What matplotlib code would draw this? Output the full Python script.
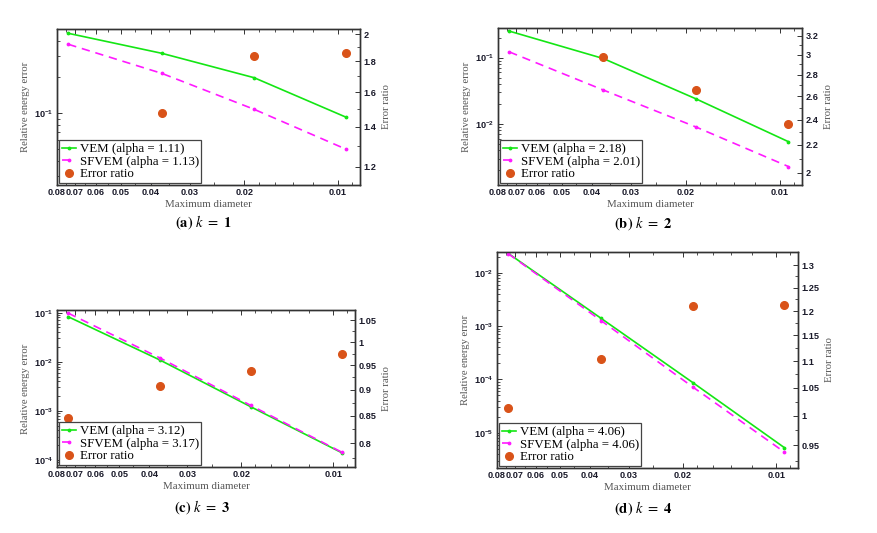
import numpy as np
import matplotlib
matplotlib.use("Agg")
import matplotlib.pyplot as plt
from matplotlib.ticker import FixedLocator, NullFormatter, FuncFormatter, LogFormatterSciNotation

# ---------------- data ----------------
h = [0.0736, 0.0368, 0.0186, 0.0094]          # maximum diameter

vem_a = [0.464, 0.316, 0.198, 0.0926]
sf_a = [0.376, 0.215, 0.108, 0.0501]
ratio_a = [1.23, 1.474, 1.835, 1.858]

vem_b = [0.25, 0.0966, 0.0239, 0.0054]
sf_b = [0.1216, 0.0324, 0.0090, 0.00228]
ratio_b = [2.06, 2.98, 2.654, 2.367]

vem_c = [0.083, 0.0108, 1.21e-3, 1.41e-4]
sf_c = [0.0982, 0.0119, 1.289e-3, 1.447e-4]
ratio_c = [0.845, 0.907, 0.939, 0.9745]

vem_d = [0.0231, 1.39e-3, 8.7e-5, 5.23e-6]
sf_d = [0.0228, 1.26e-3, 7.19e-5, 4.31e-6]
ratio_d = [1.013, 1.104, 1.21, 1.212]

alpha_vem = ["1.11", "2.18", "3.12", "4.06"]
alpha_sf = ["1.13", "2.01", "3.17", "4.06"]
captions = ["(a)", "(b)", "(c)", "(d)"]
kvals = ["1", "2", "3", "4"]

xticks = [0.08, 0.07, 0.06, 0.05, 0.04, 0.03, 0.02, 0.01]
rticks_a = [1.2, 1.4, 1.6, 1.8, 2]
rticks_b = [2, 2.2, 2.4, 2.6, 2.8, 3, 3.2]
rticks_c = [0.8, 0.85, 0.9, 0.95, 1, 1.05]
rticks_d = [0.95, 1, 1.05, 1.1, 1.15, 1.2, 1.25, 1.3]

# ---------------- layout ----------------
W, H = 877, 533
plt.rcParams['mathtext.fontset'] = 'stix'
fig = plt.figure(figsize=(W / 100, H / 100), dpi=100)

def frac(l, t, r, b):
    return [l / W, 1 - b / H, (r - l) / W, (b - t) / H]

panels = [
    dict(rect=frac(57, 29, 360, 185), vem=vem_a, sf=sf_a, ratio=ratio_a, ylim=(0.0253, 0.504),
         rlim=(1.118, 2.04), rticks=rticks_a, rminor=[1.3, 1.5, 1.7, 1.9], cap_xy=(203, 222)),
    dict(rect=frac(498, 28, 802, 185), vem=vem_b, sf=sf_b, ratio=ratio_b, ylim=(1.2e-3, 0.2786),
         rlim=(1.918, 3.286), rticks=rticks_b, rminor=[2.1, 2.3, 2.5, 2.7, 2.9, 3.1], cap_xy=(643, 223)),
    dict(rect=frac(57, 310, 355, 467), vem=vem_c, sf=sf_c, ratio=ratio_c, ylim=(7.2e-5, 0.1135),
         rlim=(0.759, 1.0735), rticks=rticks_c, rminor=[0.775, 0.825, 0.875, 0.925, 0.975, 1.025], cap_xy=(202, 507)),
    dict(rect=frac(497, 252, 798, 468), vem=vem_d, sf=sf_d, ratio=ratio_d, ylim=(2.18e-6, 0.0245),
         rlim=(0.913, 1.33), rticks=rticks_d, rminor=[0.925, 0.975, 1.025, 1.075, 1.125, 1.175, 1.225, 1.275], cap_xy=(643, 508)),
]

green = '#14e614'
magenta = '#ff1aff'
orange = '#d95319'
spine_col = '#333333'
label_col = '#555555'
serif = 'Liberation Serif'
sans = 'Liberation Sans'

fmt_g = FuncFormatter(lambda v, p: '%g' % v)

for i, P in enumerate(panels):
    ax = fig.add_axes(P['rect'])
    ax.set_xscale('log')
    ax.set_yscale('log')
    l1, = ax.plot(h, P['vem'], color=green, lw=1.2, marker='.', ms=3.5, zorder=3)
    l2, = ax.plot(h, P['sf'], color=magenta, lw=1.2, ls=(0, (5, 3.5)), marker='.', ms=3.5, zorder=3)
    ax.set_xlim(0.0800, 0.0085)
    ax.set_ylim(*P['ylim'])

    ax.xaxis.set_major_locator(FixedLocator(xticks))
    ax.xaxis.set_major_formatter(fmt_g)
    ax.xaxis.set_minor_locator(FixedLocator([0.009, 0.012, 0.014, 0.016, 0.018, 0.025, 0.035, 0.045, 0.055, 0.065, 0.075]))
    ax.xaxis.set_minor_formatter(NullFormatter())
    ax.yaxis.set_major_formatter(LogFormatterSciNotation())
    ax.yaxis.set_minor_formatter(NullFormatter())
    ax.tick_params(which='both', direction='in', top=True, right=False, colors=spine_col,
                   labelsize=6.6, labelcolor='#1a1a2a', pad=2.5)
    ax.tick_params(which='major', length=3.5, width=0.7)
    ax.tick_params(which='minor', length=2, width=0.6)
    for lab in ax.get_xticklabels() + ax.get_yticklabels():
        lab.set_fontfamily(sans)
        lab.set_fontweight('bold')
    for s in ax.spines.values():
        s.set_color(spine_col)
        s.set_linewidth(1.0)
    ax.set_xlabel('Maximum diameter', fontfamily=serif, fontsize=7.8, color=label_col, labelpad=2)
    ax.set_ylabel('Relative energy error', fontfamily=serif, fontsize=7.7, color=label_col, labelpad=3)

    ax2 = ax.twinx()
    ax2.set_yscale('log')
    l3, = ax2.plot(h, P['ratio'], ls='none', marker='o', ms=5.5, color=orange, mec=orange, zorder=3)
    ax2.set_ylim(*P['rlim'])
    ax2.yaxis.set_major_locator(FixedLocator(P['rticks']))
    ax2.yaxis.set_major_formatter(fmt_g)
    ax2.yaxis.set_minor_locator(FixedLocator(P['rminor']))
    ax2.yaxis.set_minor_formatter(NullFormatter())
    ax2.tick_params(which='both', direction='in', colors=spine_col, labelsize=6.6,
                    labelcolor='#1a1a2a', pad=2.5)
    ax2.tick_params(which='major', length=3.5, width=0.7)
    ax2.tick_params(which='minor', length=2, width=0.6)
    for lab in ax2.get_yticklabels():
        lab.set_fontfamily(sans)
        lab.set_fontweight('bold')
    for s in ax2.spines.values():
        s.set_color(spine_col)
        s.set_linewidth(1.0)
    ax2.set_ylabel('Error ratio', fontfamily=serif, fontsize=7.7, color=label_col, labelpad=4)

    leg = ax2.legend([l1, l2, l3],
                     ['VEM (alpha = %s)' % alpha_vem[i], 'SFVEM (alpha = %s)' % alpha_sf[i], 'Error ratio'],
                     loc='lower left', prop={'family': serif, 'size': 9.3}, frameon=True, fancybox=False,
                     framealpha=1, edgecolor='#444444', borderaxespad=0.15, borderpad=0.2,
                     handlelength=1.1, handletextpad=0.3, labelspacing=0.05)
    leg.get_frame().set_linewidth(0.9)
    leg.set_zorder(10)

    cx, cy = P['cap_xy']
    fig.text(cx / W, 1 - cy / H, r'$\mathbf{%s}\ k\ =\ \mathbf{%s}$' % (captions[i], kvals[i]),
             ha='center', va='center', fontsize=10.5)

fig.savefig('out.png', dpi=100, facecolor='white')
